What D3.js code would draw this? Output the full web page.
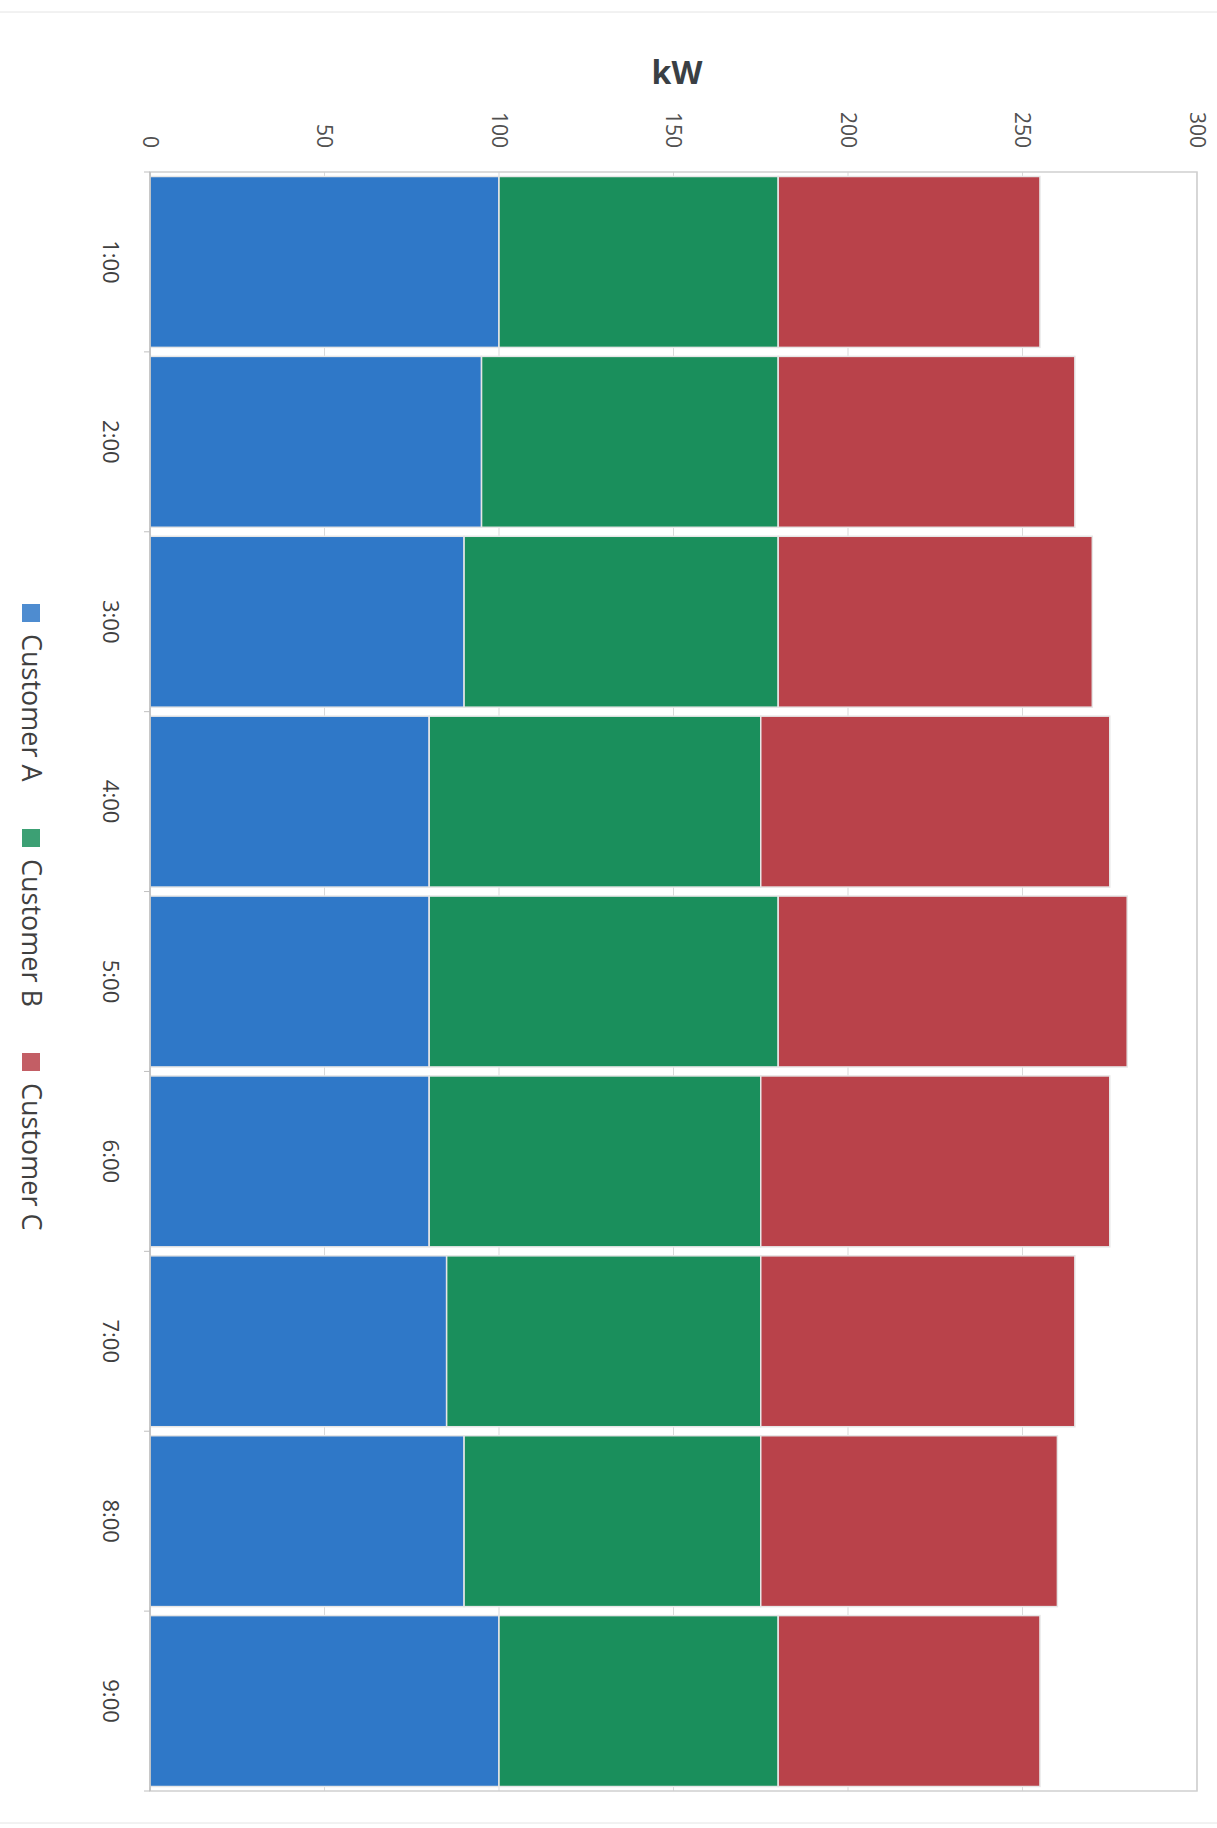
<!DOCTYPE html>
<html><head><meta charset="utf-8">
<script src="https://cdn.jsdelivr.net/npm/d3@7"></script>
<style>html,body{margin:0;padding:0;background:#fff;}svg{display:block;}</style>
</head><body>
<script>
const categories = ["1:00","2:00","3:00","4:00","5:00","6:00","7:00","8:00","9:00"];
const seriesNames = ["Customer A","Customer B","Customer C"];
const customerA = [100, 95, 90, 80, 80, 80, 85, 90, 100];
const customerB = [80, 85, 90, 95, 100, 95, 90, 85, 80];
const customerC = [75, 85, 90, 100, 100, 100, 90, 85, 75];
const valueTicks = [0, 50, 100, 150, 200, 250, 300];
const axisTitle = "kW";
const colors = ["#2f78c8", "#1a8f5c", "#b9424a"];

const W = 1217, H = 1828;
const m = {left: 150, right: 1197, top: 172, bottom: 1791};
const svg = d3.select("body").append("svg").attr("width", W).attr("height", H);

// faint page edges
svg.append("line").attr("x1", 0).attr("x2", W).attr("y1", 12).attr("y2", 12).attr("stroke", "#e4e4e4").attr("stroke-width", 1);
svg.append("line").attr("x1", 0).attr("x2", W).attr("y1", 1823).attr("y2", 1823).attr("stroke", "#e4e4e4").attr("stroke-width", 1);

const x = d3.scaleLinear().domain([0, 300]).range([m.left, m.right]);
const y = d3.scaleBand().domain(categories).range([m.top, m.bottom]).paddingInner(0.05).paddingOuter(0.025);

// gridlines
svg.append("g").selectAll("line").data(valueTicks).join("line")
  .attr("x1", d => x(d)).attr("x2", d => x(d))
  .attr("y1", m.top).attr("y2", m.bottom)
  .attr("stroke", "#d9d9d9").attr("stroke-width", 1);
// frame
svg.append("rect").attr("x", m.left).attr("y", m.top).attr("width", m.right - m.left).attr("height", m.bottom - m.top)
  .attr("fill", "none").attr("stroke", "#cfcfcf").attr("stroke-width", 1.5);

const data = categories.map((c, i) => ({cat: c, "Customer A": customerA[i], "Customer B": customerB[i], "Customer C": customerC[i]}));
const stack = d3.stack().keys(seriesNames)(data);

svg.append("g").selectAll("g").data(stack).join("g")
  .attr("fill", (d, i) => colors[i])
  .selectAll("rect").data(d => d).join("rect")
  .attr("x", d => x(d[0])).attr("width", d => x(d[1]) - x(d[0]))
  .attr("y", d => y(d.data.cat)).attr("height", y.bandwidth())
  .attr("stroke", "#e6e6e6").attr("stroke-width", 1.5);

// category axis (left), labels rotated
const catAxis = svg.append("g");
catAxis.append("line").attr("x1", m.left).attr("x2", m.left).attr("y1", m.top).attr("y2", m.bottom).attr("stroke", "#bfbfbf").attr("stroke-width", 1.5);
const bounds = [m.top].concat(categories.map(c => y(c) + y.bandwidth() + y.step() * y.paddingInner() / 2));
catAxis.selectAll("line.tk").data(bounds).join("line").attr("class", "tk")
  .attr("x1", m.left - 6).attr("x2", m.left).attr("y1", d => d).attr("y2", d => d)
  .attr("stroke", "#bfbfbf").attr("stroke-width", 1);
catAxis.selectAll("text").data(categories).join("text")
  .attr("transform", d => `translate(111,${y(d) + y.bandwidth() / 2}) rotate(90)`)
  .attr("text-anchor", "middle").attr("dy", "0.35em")
  .attr("font-family", "'Open Sans', sans-serif").attr("font-size", 22).attr("fill", "#404040")
  .text(d => d);

// value tick labels (top), rotated
svg.append("g").selectAll("text").data(valueTicks).join("text")
  .attr("transform", d => `translate(${x(d)},148) rotate(90)`)
  .attr("text-anchor", "end").attr("dy", "0.35em")
  .attr("font-family", "'Open Sans', sans-serif").attr("font-size", 21).attr("fill", "#505050")
  .text(d => d);

// axis title
svg.append("text").attr("x", 677).attr("y", 84).attr("text-anchor", "middle")
  .attr("font-family", "'Open Sans', sans-serif").attr("font-weight", "bold").attr("font-size", 32).attr("fill", "#3a3f44")
  .text(axisTitle);

// legend
const legendY = [604, 829, 1053];
const lg = svg.append("g").selectAll("g").data(seriesNames).join("g")
  .attr("transform", (d, i) => `translate(31,${legendY[i]})`);
lg.append("rect").attr("x", -9).attr("y", 0).attr("width", 18).attr("height", 18).attr("fill", (d, i) => colors[i]).attr("opacity", 0.85);
lg.append("text").attr("transform", "translate(0,30) rotate(90)")
  .attr("text-anchor", "start").attr("dy", "0.35em")
  .attr("font-family", "'Open Sans', sans-serif").attr("font-size", 27).attr("fill", "#404040")
  .text(d => d);
</script>
</body></html>
